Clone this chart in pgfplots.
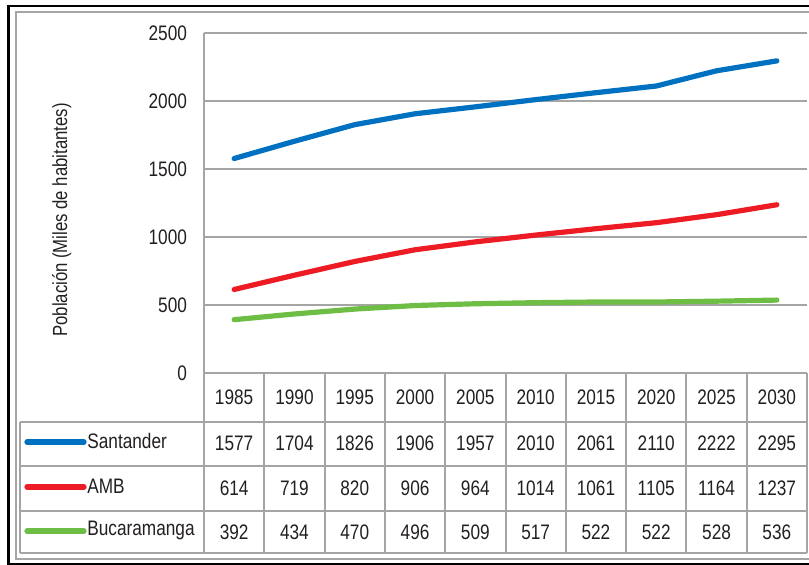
\documentclass[border=0pt]{standalone}
\usepackage{pgfplots}
\pgfplotsset{compat=1.18}
\usepackage{fontspec}
\setmainfont{Liberation Sans}[FakeStretch=0.82]
\definecolor{cblue}{RGB}{0,112,192}
\definecolor{cred}{RGB}{237,28,36}
\definecolor{cgreen}{RGB}{110,190,70}
\definecolor{gridc}{RGB}{165,165,165}
\definecolor{txt}{RGB}{35,31,32}
\begin{document}
\begin{tikzpicture}[font=\fontsize{10.5}{12}\selectfont,text=txt]
\begin{axis}[at={(102pt,96pt)}, anchor=south west, scale only axis,
  width=301.5pt, height=170pt,
  xmin=0.5, xmax=10.5, ymin=0, ymax=2500,
  ytick={0,500,...,2500}, xtick=\empty,
  ymajorgrids, grid style={gridc,line width=1pt},
  axis line style={draw=none}, major tick length=0pt,
  tick label style={font=\fontsize{10.5}{12}\selectfont, text=txt},
  yticklabel style={xshift=-5pt},
  /pgf/number format/assume math mode=true,
  /pgf/number format/1000 sep={},
  clip=false,
  ylabel={Población (Miles de habitantes)},
  ylabel style={at={(axis description cs:-0.236,0.45)}, anchor=center, font=\fontsize{10.2}{11}\selectfont, text=txt},
]
\draw[gridc,line width=1pt] (axis cs:0.5,0) -- (axis cs:0.5,2500);
\addplot[cblue, line width=2.6pt, line cap=round, line join=round] coordinates {
(1,1577)(2,1704)(3,1826)(4,1906)(5,1957)(6,2010)(7,2061)(8,2110)(9,2222)(10,2295)};
\addplot[cred, line width=2.6pt, line cap=round, line join=round] coordinates {
(1,614)(2,719)(3,820)(4,906)(5,964)(6,1014)(7,1061)(8,1105)(9,1164)(10,1237)};
\addplot[cgreen, line width=2.6pt, line cap=round, line join=round] coordinates {
(1,392)(2,434)(3,470)(4,496)(5,509)(6,517)(7,522)(8,522)(9,528)(10,536)};
\end{axis}
\begin{scope}[x=0.5pt,y=-0.5pt,shift={(0pt,282.5pt)}]
\useasboundingbox (0,0) rectangle (809,565);
\draw[black,line width=1.1pt] (8.5,6) rectangle (840,564);
\draw[gridc,line width=1pt] (16,12.5) rectangle (840,559);
\begin{scope}[gridc,line width=1pt]
\draw (204,373) -- (807,373);
\foreach \yy in {422,466,511,553} \draw (20,\yy) -- (807,\yy);
\draw (20,422) -- (20,553);
\foreach \k in {0,...,10} \draw ({204+60.3*\k},373) -- ({204+60.3*\k},553);
\end{scope}
\foreach \v [count=\i] in {1985,1990,1995,2000,2005,2010,2015,2020,2025,2030}
  \node at ({204+60.3*(\i-0.5)},397.5) {\v};
\foreach \v [count=\i] in {1577,1704,1826,1906,1957,2010,2061,2110,2222,2295}
  \node at ({204+60.3*(\i-0.5)},443) {\v};
\foreach \v [count=\i] in {614,719,820,906,964,1014,1061,1105,1164,1237}
  \node at ({204+60.3*(\i-0.5)},488) {\v};
\foreach \v [count=\i] in {392,434,470,496,509,517,522,522,528,536}
  \node at ({204+60.3*(\i-0.5)},532) {\v};
\draw[cblue,line width=2.6pt,line cap=round] (27,442) -- (84,442);
\draw[cred,line width=2.6pt,line cap=round] (27,487) -- (84,487);
\draw[cgreen,line width=2.6pt,line cap=round] (27,531) -- (84,531);
\node[anchor=west,inner sep=0pt] at (87,441) {Santander};
\node[anchor=west,inner sep=0pt] at (87,486) {AMB};
\node[anchor=west,inner sep=0pt] at (87,530) {Bucaramanga};
\end{scope}
\end{tikzpicture}
\end{document}
